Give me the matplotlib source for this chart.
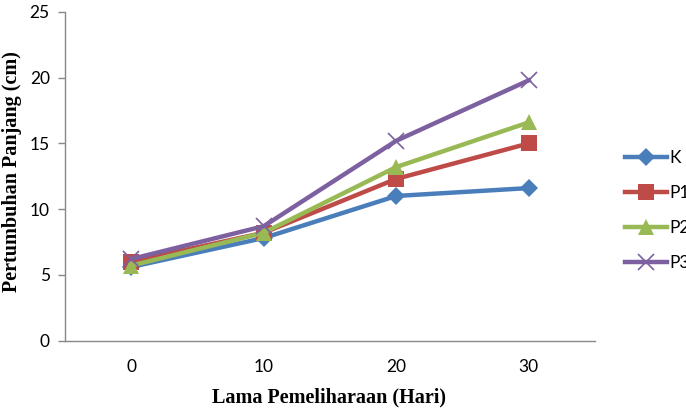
import matplotlib
matplotlib.use("Agg")
import matplotlib.pyplot as plt
import numpy as np

days = ["0", "10", "20", "30"]
series_names = ["K", "P1", "P2", "P3"]
K = [5.6, 7.8, 11.0, 11.6]
P1 = [6.0, 8.2, 12.3, 15.0]
P2 = [5.7, 8.2, 13.2, 16.6]
P3 = [6.2, 8.7, 15.2, 19.8]
yticks = [0, 5, 10, 15, 20, 25]

colors = ["#4A7EBB", "#BE4B48", "#98B954", "#7D60A0"]
markers = ["D", "s", "^", "x"]
msizes = [9, 11, 11, 11]

fig = plt.figure(figsize=(6.86, 4.12), dpi=100)
ax = fig.add_axes([65/686, (412-340.5)/412, (595-65)/686, (340.5-12)/412])

x = np.arange(len(days))
for name, vals, c, m, ms in zip(series_names, [K, P1, P2, P3], colors, markers, msizes):
    kw = dict(markeredgewidth=1.2) if m == "x" else dict(markeredgewidth=0)
    ax.plot(x, vals, color=c, lw=3.2, marker=m, markersize=ms, label=name,
            markerfacecolor=c, markeredgecolor=c, **kw)

ax.set_xlim(-0.5, len(days) - 0.5)
ax.set_ylim(0, 25)
ax.set_xticks(x)
ax.set_xticklabels(days)
ax.set_yticks(yticks)

tickfam = ["Lato", "DejaVu Sans"]
for lab in ax.get_xticklabels() + ax.get_yticklabels():
    lab.set_fontfamily(tickfam)
    lab.set_fontsize(12.5)

for s in ["top", "right"]:
    ax.spines[s].set_visible(False)
for s in ["left", "bottom"]:
    ax.spines[s].set_color("#888888")
    ax.spines[s].set_linewidth(1.0)
ax.tick_params(axis="x", length=0, pad=13, colors="#000000")
ax.tick_params(axis="y", length=5, width=1, color="#888888", pad=6)
ax.tick_params(axis="both", labelcolor="#000000")

ax.set_xlabel("Lama Pemeliharaan (Hari)", family=["Liberation Serif"], fontweight="bold",
              fontsize=14.5)
ax.xaxis.set_label_coords((329 - 65) / 530, -(387 - 340.5) / 328.5)
ax.set_ylabel("Pertumbuhan Panjang (cm)", family=["Liberation Serif"], fontweight="bold",
              fontsize=14.5)
ax.yaxis.set_label_coords(-(65 - 22) / 530, (340.5 - 172) / 328.5)

leg = fig.legend(loc="upper left", bbox_to_anchor=(618/686, (412-143)/412), frameon=False,
                 prop=dict(family=["Lato", "DejaVu Sans"], size=12.5),
                 handlelength=2.4, labelspacing=1.1, handletextpad=0.15, borderaxespad=0)

fig.savefig("out.png", dpi=100)
